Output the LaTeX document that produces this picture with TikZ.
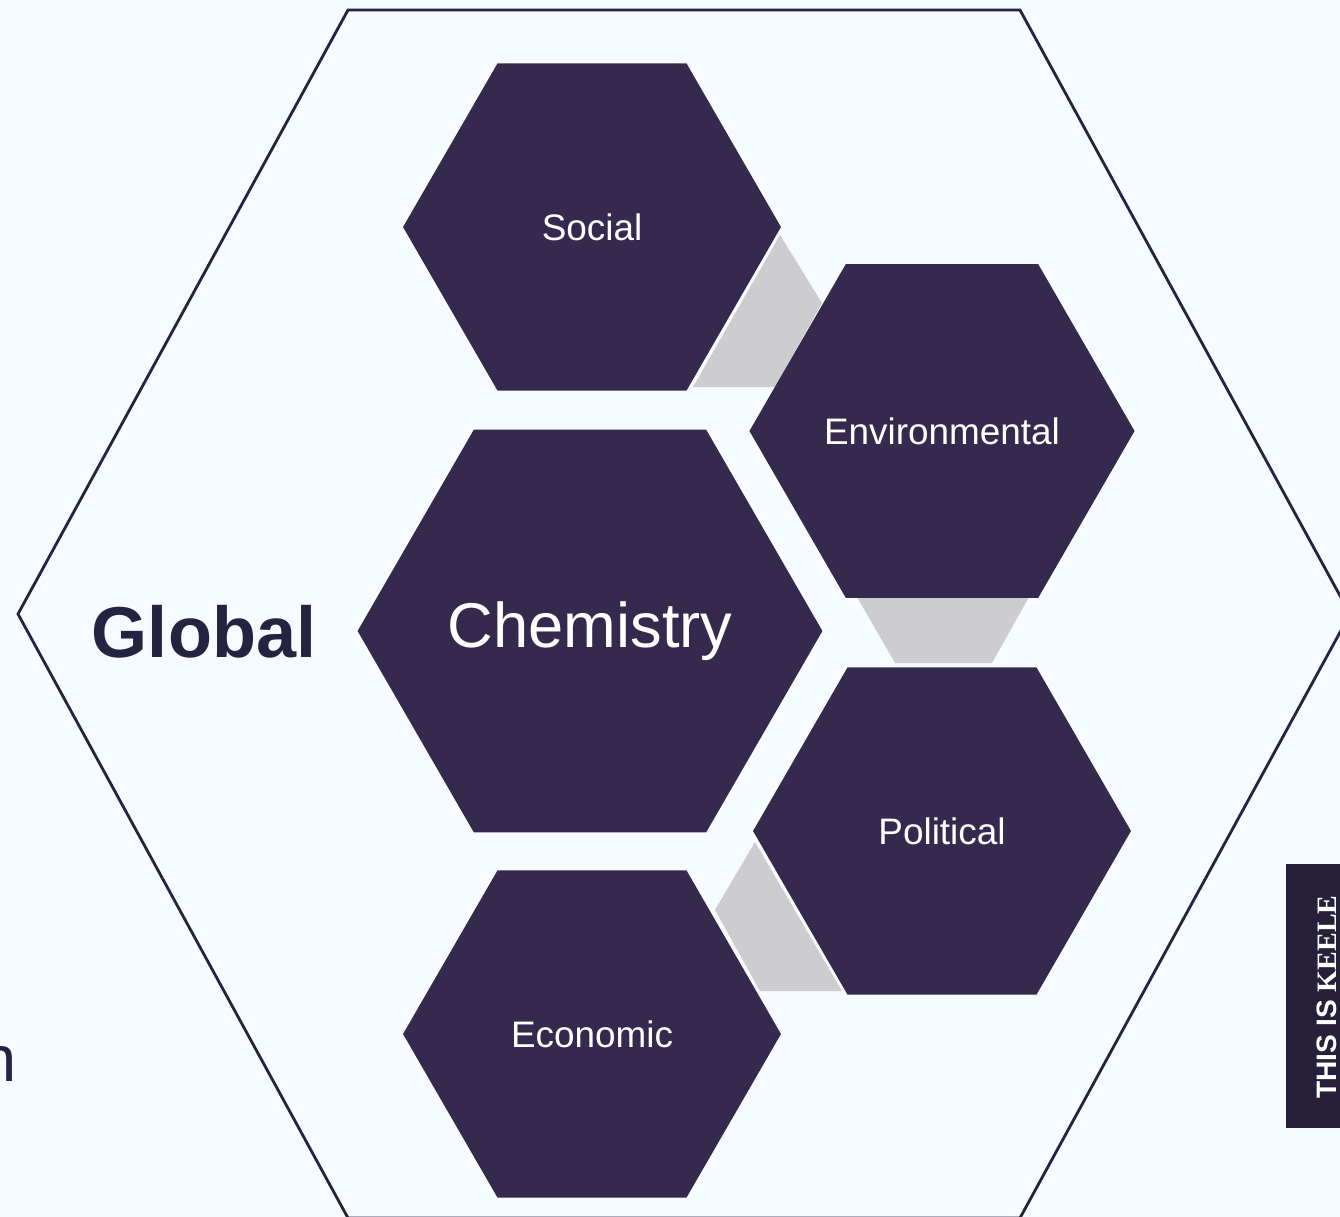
\documentclass[tikz,border=0pt]{standalone}
\usepackage{fontspec}
\setmainfont{Liberation Sans}
\newfontfamily\keeleserif{Liberation Serif}
\usetikzlibrary{shapes.geometric}

\definecolor{bgpale}{HTML}{F5FBFE}
\definecolor{hexfill}{HTML}{352A4E}
\definecolor{inkdark}{HTML}{262340}
\definecolor{keelebox}{HTML}{26203B}
\definecolor{linkgrey}{HTML}{CDCDCF}

\begin{document}
\begin{tikzpicture}[
    x=0.02cm, y=-0.02cm,
    hexnode/.style={regular polygon, regular polygon sides=6, fill=hexfill,
                    draw=none, inner sep=0pt, text=white},
    smallhex/.style={hexnode, minimum size=7.56cm, font=\fontsize{21}{25}\selectfont},
    bighex/.style={hexnode, minimum size=9.26cm, font=\fontsize{36}{42}\selectfont},
    link/.style={fill=linkgrey, draw=none},
]

% Hintergrund
\useasboundingbox (0,0) rectangle (1340,1217);
\fill[bgpale] (0,0) rectangle (1340,1217);

% Aeusseres Sechseck
\draw[inkdark, line width=1.6pt, line join=miter]
    (348,10) -- (1020,10) -- (1350,614) -- (1020,1218)
    -- (348,1218) -- (18,614) -- cycle;
\node[font=\fontsize{41}{48}\selectfont\bfseries, text=inkdark] (global) at (204,632) {Global};
\node[font=\fontsize{37}{44}\selectfont, text=inkdark, anchor=base east, inner sep=0pt] (frag) at (17,1081) {n};

% Verbindungsstuecke
\fill[link] (780,235) -- (822,303) -- (775,387) -- (693,387) -- cycle;
\fill[link] (857,597) -- (1029,597) -- (992,663) -- (895,663) -- cycle;
\fill[link] (755,842) -- (842,991) -- (760,991) -- (715,910) -- cycle;

% Sechsecke
\node[bighex] (chem) at (590,631) {Chemistry};
\node[smallhex] (social) at (592,227) {Social};
\node[smallhex] (env) at (942,431) {Environmental};
\node[smallhex] (pol) at (942,831) {Political};
\node[smallhex] (econ) at (592,1034) {Economic};

% Logo
\fill[keelebox] (1286,864) rectangle (1345,1128);
\node[rotate=90, text=white, font=\fontsize{16}{18}\selectfont] (keele) at (1327,997)
    {\textbf{THIS IS} {\keeleserif\bfseries KEELE}};

\end{tikzpicture}
\end{document}
